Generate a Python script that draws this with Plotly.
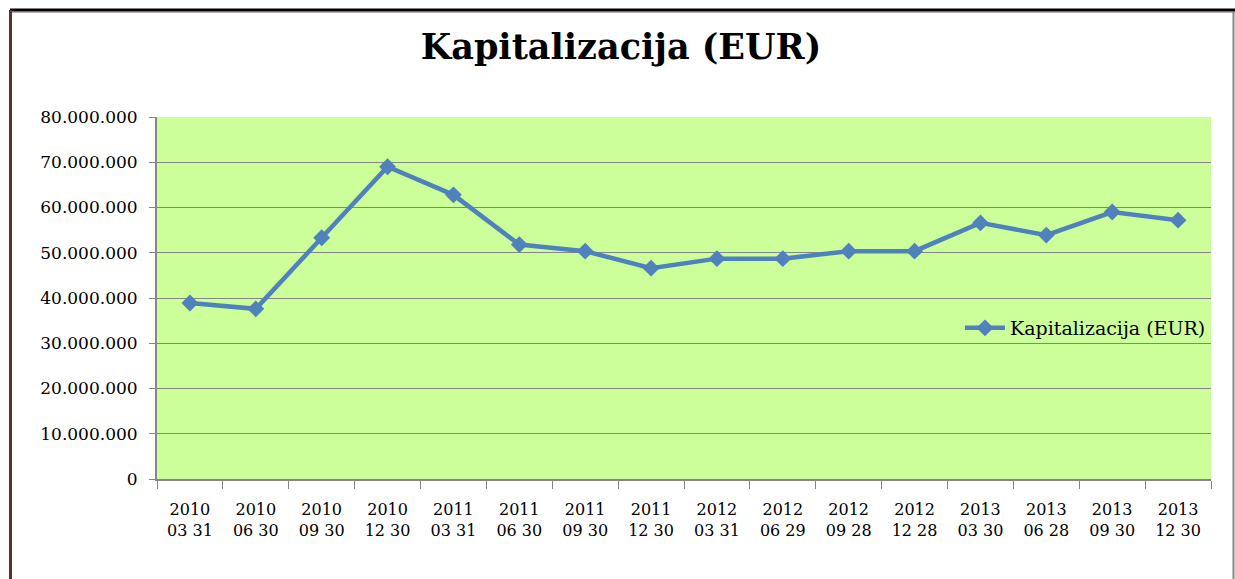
import plotly.graph_objects as go

years = ["2010", "2010", "2010", "2010", "2011", "2011", "2011", "2011",
         "2012", "2012", "2012", "2012", "2013", "2013", "2013", "2013"]
days = ["03 31", "06 30", "09 30", "12 30", "03 31", "06 30", "09 30", "12 30",
        "03 31", "06 29", "09 28", "12 28", "03 30", "06 28", "09 30", "12 30"]
categories = [f"{y}<br>{d}" for y, d in zip(years, days)]
values = [38.9e6, 37.6e6, 53.3e6, 69.0e6, 62.8e6, 51.8e6, 50.35e6, 46.6e6,
          48.7e6, 48.7e6, 50.35e6, 50.35e6, 56.6e6, 53.9e6, 59.0e6, 57.2e6]
y_ticks = [0, 10e6, 20e6, 30e6, 40e6, 50e6, 60e6, 70e6, 80e6]
y_labels = ["0", "10.000.000", "20.000.000", "30.000.000", "40.000.000",
            "50.000.000", "60.000.000", "70.000.000", "80.000.000"]
series_name = "Kapitalizacija (EUR)"

W, H = 1235, 579
L, R, T, B = 157, 1211, 117, 479

def px(x):
    return (x - L) / (R - L)

def py(y):
    return (B - y) / (B - T)

fig = go.Figure()
fig.add_trace(go.Scatter(
    x=categories, y=values, mode="lines+markers", name=series_name,
    line=dict(color="#4F81BD", width=4.5),
    marker=dict(symbol="diamond", size=13, color="#4F81BD"),
))

serif = "DejaVu Serif, Liberation Serif, serif"

fig.update_layout(
    width=W, height=H,
    margin=dict(l=L, r=W - R, t=T, b=H - B, autoexpand=False),
    paper_bgcolor="white", plot_bgcolor="#CCFF99",
    title=dict(text="<b>Kapitalizacija (EUR)</b>", x=621 / W, xanchor="center",
               y=1 - 47 / H, yanchor="middle",
               font=dict(family=serif, size=35, color="black")),
    showlegend=True,
    legend=dict(x=1.0, xanchor="right", y=py(328), yanchor="middle",
                bgcolor="rgba(0,0,0,0)", font=dict(family=serif, size=19, color="black"),
                itemwidth=40),
    font=dict(family=serif, size=17, color="black"),
)

fig.update_xaxes(
    type="category", tickson="boundaries", ticks="outside", ticklen=8,
    tickcolor="#868686", tickwidth=1,
    showline=True, linecolor="#868686", linewidth=2,
    showgrid=False, tickfont=dict(family=serif, size=16, color="black"),
    ticklabelstandoff=15,
    range=[-0.5, len(categories) - 0.5], fixedrange=True,
)
fig.update_yaxes(
    range=[0, 80e6], tickvals=y_ticks, ticktext=y_labels,
    ticks="outside", ticklen=6, tickcolor="#868686",
    showline=True, linecolor="#868686", linewidth=2,
    showgrid=True, gridcolor="#868686", gridwidth=1,
    zeroline=False, tickfont=dict(family=serif, size=17, color="black"),
    ticklabelstandoff=8,
    fixedrange=True,
)

# outer chart border (as in the reference screenshot)
fig.add_shape(type="line", xref="paper", yref="paper",
              x0=px(10), x1=px(1235), y0=py(10), y1=py(10),
              line=dict(color="black", width=3))
fig.add_shape(type="line", xref="paper", yref="paper",
              x0=px(10), x1=px(1235), y0=py(12), y1=py(12),
              line=dict(color="#7a5a5a", width=1))
fig.add_shape(type="line", xref="paper", yref="paper",
              x0=px(10.5), x1=px(10.5), y0=py(10), y1=py(579),
              line=dict(color="#5a3030", width=3))
fig.add_shape(type="line", xref="paper", yref="paper",
              x0=px(1233.5), x1=px(1233.5), y0=py(12), y1=py(579),
              line=dict(color="#868686", width=2))

fig.write_html("out.html")
